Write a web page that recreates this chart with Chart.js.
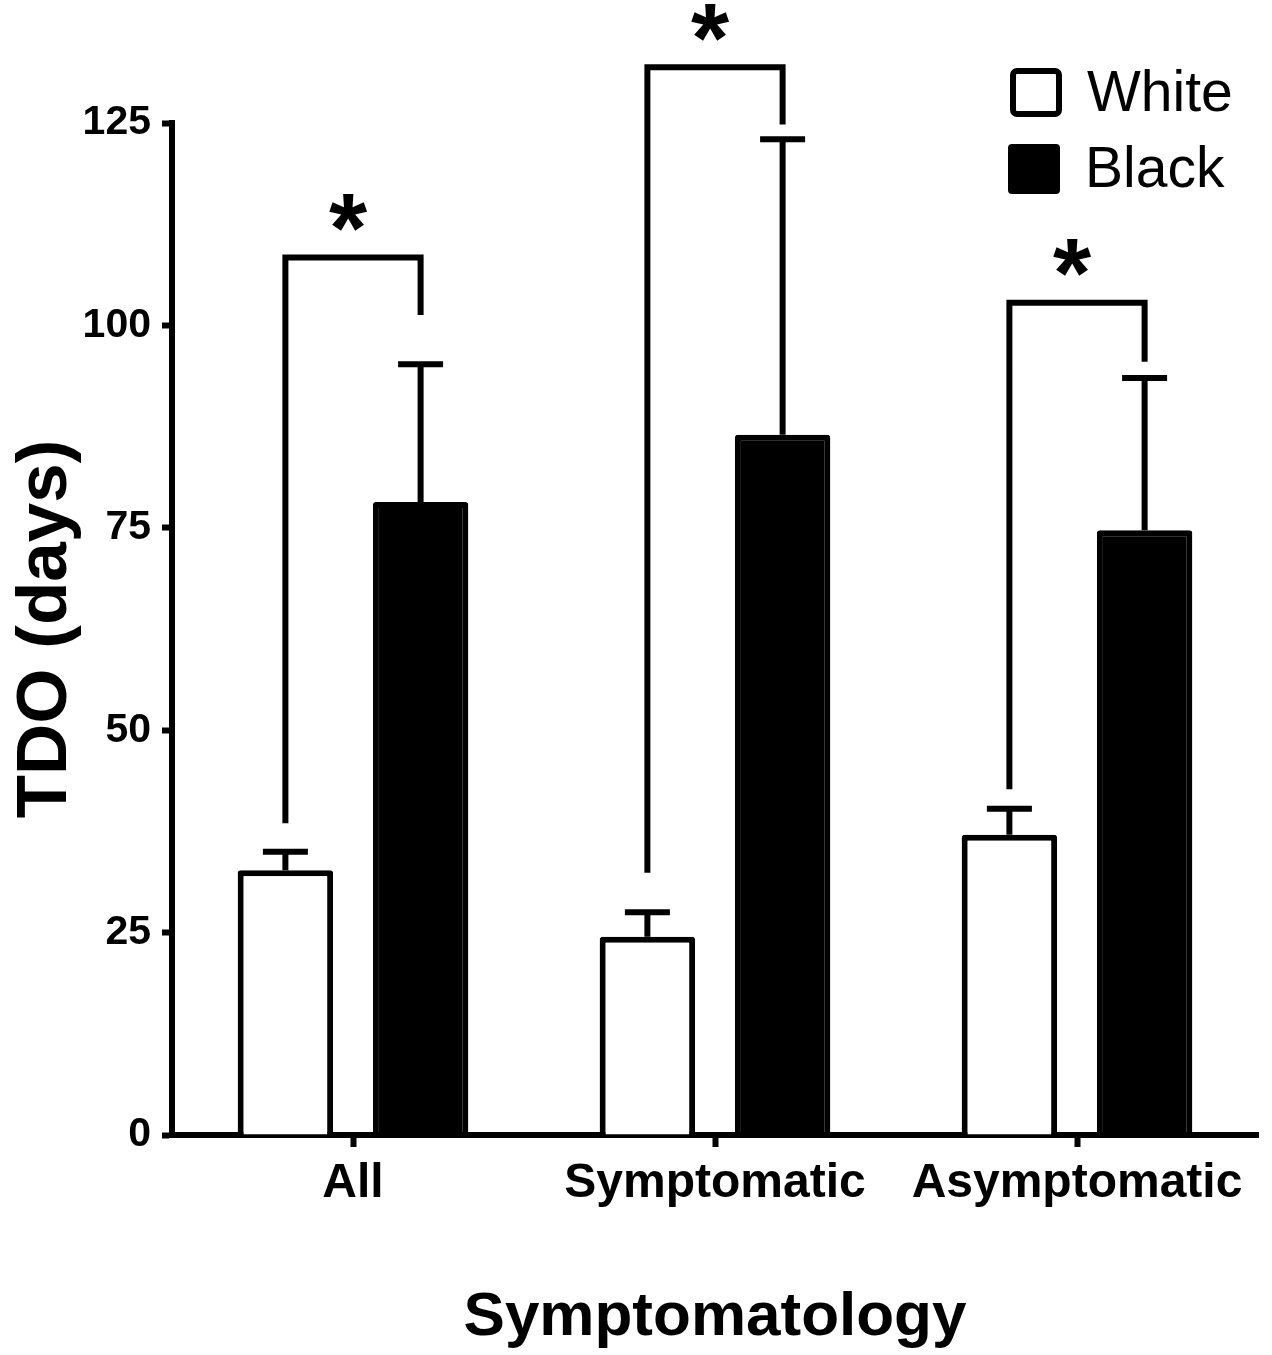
<!DOCTYPE html>
<html>
<head>
<meta charset="utf-8">
<script src="https://cdn.jsdelivr.net/npm/chart.js@4"></script>
<style>
  body { margin: 0; background: #fff; }
</style>
</head>
<body>
<canvas id="tdoChart" width="1272" height="1355"></canvas>
<script>
const groups = ['All', 'Symptomatic', 'Asymptomatic'];
const whiteMean = [32.7, 24.5, 37.1];
const whiteUpper = [35.0, 27.5, 40.3];
const blackMean = [78.2, 86.5, 74.7];
const blackUpper = [95.2, 123.0, 93.5];
// significance brackets (days): left foot, top, right foot
const bracketLeft = [38.5, 32.4, 42.7];
const bracketTop = [108.4, 131.9, 102.8];
const bracketRight = [101.3, 124.8, 95.5];
const yTicks = [0, 25, 50, 75, 100, 125];

const FONT = '"Liberation Sans", Arial, Helvetica, sans-serif';
const LW = 6;

const annotations = {
  id: 'annotations',
  afterDraw(chart) {
    const ctx = chart.ctx;
    const y = chart.scales.y;
    const whiteBars = chart.getDatasetMeta(0).data;
    const blackBars = chart.getDatasetMeta(1).data;
    ctx.save();
    ctx.strokeStyle = '#000';
    ctx.fillStyle = '#000';
    ctx.lineWidth = LW;
    ctx.lineCap = 'butt';
    ctx.lineJoin = 'miter';

    // error bars (upper only)
    chart.data.datasets.forEach((ds, di) => {
      chart.getDatasetMeta(di).data.forEach((bar, i) => {
        const top = y.getPixelForValue(ds.upper[i]);
        ctx.beginPath();
        ctx.moveTo(bar.x, bar.y);
        ctx.lineTo(bar.x, top);
        ctx.moveTo(bar.x - 22.5, top);
        ctx.lineTo(bar.x + 22.5, top);
        ctx.stroke();
      });
    });

    // brackets + stars
    ctx.font = 'bold 98px ' + FONT;
    ctx.textAlign = 'center';
    ctx.textBaseline = 'alphabetic';
    const m = ctx.measureText('*');
    groups.forEach((g, i) => {
      const xl = whiteBars[i].x, xr = blackBars[i].x;
      const yt = y.getPixelForValue(bracketTop[i]);
      ctx.beginPath();
      ctx.moveTo(xl, y.getPixelForValue(bracketLeft[i]));
      ctx.lineTo(xl, yt);
      ctx.lineTo(xr, yt);
      ctx.lineTo(xr, y.getPixelForValue(bracketRight[i]));
      ctx.stroke();
      const cy = yt - 45;
      const base = cy + (m.actualBoundingBoxAscent - m.actualBoundingBoxDescent) / 2;
      ctx.fillText('*', (xl + xr) / 2 - 5, base);
    });

    // legend
    const area = chart.chartArea;
    const bx = area.right - 248;
    ctx.lineWidth = LW;
    ctx.beginPath();
    ctx.roundRect(bx + 3, 71, 46, 43, 4);
    ctx.stroke();
    ctx.beginPath();
    ctx.roundRect(bx - 2, 144, 52, 50, 4);
    ctx.fill();
    ctx.font = '57px ' + FONT;
    ctx.textAlign = 'left';
    ctx.textBaseline = 'middle';
    ctx.fillText(chart.data.datasets[0].label, bx + 77, 95);
    ctx.fillText(chart.data.datasets[1].label, bx + 75, 171);
    ctx.restore();
  }
};

new Chart(document.getElementById('tdoChart'), {
  type: 'bar',
  data: {
    labels: groups,
    datasets: [
      { label: 'White', data: whiteMean, upper: whiteUpper, backgroundColor: '#fff',
        borderColor: '#000', borderWidth: LW, borderRadius: 3 },
      { label: 'Black', data: blackMean, upper: blackUpper, backgroundColor: '#000',
        borderColor: '#000', borderWidth: LW, borderRadius: 3 }
    ]
  },
  options: {
    responsive: false,
    animation: false,
    categoryPercentage: 0.747,
    barPercentage: 0.706,
    layout: { padding: { top: 123, right: 14, left: 0, bottom: 0 } },
    plugins: { legend: { display: false }, tooltip: { enabled: false } },
    scales: {
      x: {
        grid: { offset: false, drawOnChartArea: false, tickLength: 12, tickWidth: LW, tickColor: '#000' },
        border: { color: '#000', width: LW },
        ticks: { color: '#000', padding: 8, font: { family: FONT, size: 48, weight: 'bold' } },
        title: { display: true, text: 'Symptomatology', color: '#000',
          font: { family: FONT, size: 62, weight: 'bold' }, padding: { top: 0, bottom: 0 } },
        afterFit(s) { s.height = 220; }
      },
      y: {
        min: 0,
        max: 125,
        afterBuildTicks(s) { s.ticks = yTicks.map(v => ({ value: v })); },
        grid: { drawOnChartArea: false, tickLength: 10, tickWidth: LW, tickColor: '#000' },
        border: { color: '#000', width: LW },
        ticks: { color: '#000', padding: 11, font: { family: FONT, size: 41, weight: 'bold' } },
        title: { display: true, text: 'TDO (days)', color: '#000',
          font: { family: FONT, size: 71, weight: 'bold' }, padding: { top: 4, bottom: 0 } },
        afterFit(s) { s.width = 172; }
      }
    }
  },
  plugins: [annotations]
});
</script>
</body>
</html>
